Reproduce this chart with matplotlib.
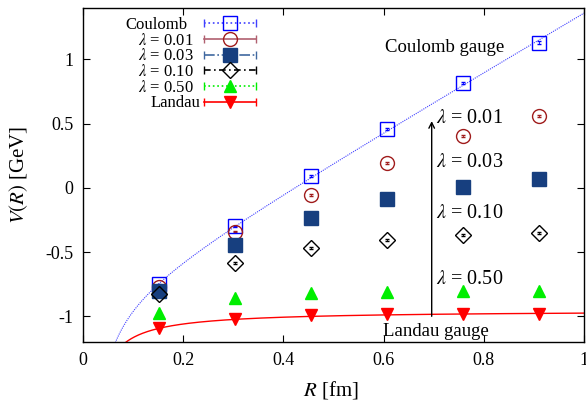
import numpy as np
import matplotlib
matplotlib.use("Agg")
import matplotlib.pyplot as plt
from matplotlib.lines import Line2D
from matplotlib.legend_handler import HandlerLine2D, HandlerTuple
from matplotlib.ticker import FuncFormatter

plt.rcParams['font.family'] = ['Liberation Serif', 'DejaVu Serif']
plt.rcParams['mathtext.fontset'] = 'stix'

# Data
R = [0.1516, 0.3032, 0.4548, 0.6064, 0.7580, 0.9096]
V_coulomb = [-0.75, -0.30, 0.094, 0.46, 0.82, 1.13]
V_l001 = [-0.77, -0.34, -0.055, 0.195, 0.405, 0.56]
V_l003 = [-0.80, -0.445, -0.234, -0.086, 0.01, 0.07]
V_l010 = [-0.83, -0.586, -0.47, -0.406, -0.367, -0.35]
V_l050 = [-0.977, -0.86, -0.82, -0.81, -0.805, -0.80]
V_landau = [-1.094, -1.02, -0.99, -0.985, -0.983, -0.98]
err = [0.004, 0.005, 0.006, 0.007, 0.008, 0.01]

# fit parameters V(R) = C - A/R + sigma*R
fit_coulomb = dict(C=-0.90, A=0.0292, sigma=2.29)
fit_landau = dict(C=-0.954, A=0.0212, sigma=0.0)

labels = ['Coulomb', r'$\lambda$ = 0.01', r'$\lambda$ = 0.03',
          r'$\lambda$ = 0.10', r'$\lambda$ = 0.50', 'Landau']
series = [V_coulomb, V_l001, V_l003, V_l010, V_l050, V_landau]
colors = ['#0000ff', '#a01c1c', '#173f7f', '#000000', '#00ee00', '#ff0000']
legcolors = ['#4040ff', '#b06070', '#4068a0', '#000000', '#00ee00', '#ff0000']
markers = ['s', 'o', 's', 'D', '^', 'v']
mfcs = ['none', 'none', '#173f7f', 'none', '#00ee00', '#ff0000']
msizes = [10, 10, 10, 8, 9, 9]
lstyles = [':', '-', '-.', (0, (4, 2, 1, 2)), ':', '-']

fig = plt.figure(figsize=(5.86, 4.04), dpi=100)
ax = fig.add_axes([0.1416, 0.1535, 0.855, 0.8265])

# fit curves
rr = np.linspace(0.03, 1.0, 600)
fc = fit_coulomb['C'] - fit_coulomb['A'] / rr + fit_coulomb['sigma'] * rr
fl = fit_landau['C'] - fit_landau['A'] / rr + fit_landau['sigma'] * rr
ax.plot(rr, fc, color='#4040ff', lw=0.8, ls=(0, (1, 1)))
ax.plot(rr, fl, color='#ff0000', lw=1.0)

handles = []
hmap = {}
for V, lab, c, lc, m, mfc, ms, ls in zip(series, labels, colors, legcolors,
                                         markers, mfcs, msizes, lstyles):
    ax.errorbar(R, V, yerr=err, fmt=m, color=c, mfc=mfc, mec=c, ms=ms,
                mew=1.0, elinewidth=0.6, capsize=1.5, capthick=0.6, ls='none')
    cap = Line2D([], [], color=lc, ls=ls, lw=1.2, marker='|', ms=6, mew=1.0)
    mk = Line2D([], [], color=c, ls='none', marker=m, mfc=mfc, mec=c, ms=ms, mew=1.0)
    hmap[cap] = HandlerLine2D(numpoints=2)
    hmap[mk] = HandlerLine2D(numpoints=1)
    handles.append((cap, mk))

hmap[tuple] = HandlerTuple(ndivide=1, pad=0)
leg = ax.legend(handles, labels, handler_map=hmap, loc='upper left',
                bbox_to_anchor=(0.065, 1.003), frameon=False, markerfirst=False,
                fontsize=12, handlelength=3.7, labelspacing=-0.02,
                handletextpad=0.7, borderaxespad=0.2)

# right-align the legend labels
renderer = fig.canvas.get_renderer()
texts = leg.get_texts()
widths = [t.get_window_extent(renderer).width for t in texts]
wmax = max(widths)
for t, w in zip(texts, widths):
    t.set_position((wmax - w, 0))

# annotations
ax.text(0.722, 1.09, 'Coulomb gauge', fontsize=13.5, ha='center', va='center')
ax.text(0.705, -1.12, 'Landau gauge', fontsize=13.5, ha='center', va='center')
ax.text(0.705, 0.54, r'$\lambda$ = 0.01', fontsize=14.5, ha='left', va='center')
ax.text(0.705, 0.195, r'$\lambda$ = 0.03', fontsize=14.5, ha='left', va='center')
ax.text(0.705, -0.20, r'$\lambda$ = 0.10', fontsize=14.5, ha='left', va='center')
ax.text(0.705, -0.71, r'$\lambda$ = 0.50', fontsize=14.5, ha='left', va='center')
ax.annotate('', xy=(0.696, 0.52), xytext=(0.696, -1.0),
            arrowprops=dict(arrowstyle='->', color='black', lw=1.0,
                            shrinkA=0, shrinkB=0))

ax.set_xlim(0, 1)
ax.set_ylim(-1.2, 1.4)
ax.set_xticks([0, 0.2, 0.4, 0.6, 0.8, 1.0])
ax.set_yticks([-1, -0.5, 0, 0.5, 1])
fmt = FuncFormatter(lambda v, p: ('%g' % v).replace('\u2212', '-'))
ax.xaxis.set_major_formatter(fmt)
ax.yaxis.set_major_formatter(fmt)
ax.tick_params(direction='in', top=True, right=True, length=5, width=0.8,
               labelsize=13, pad=7)
for s in ax.spines.values():
    s.set_linewidth(1.0)
ax.set_xlabel(r'$R$ [fm]', fontsize=15)
ax.set_ylabel(r'$V(R)$ [GeV]', fontsize=15)
ax.xaxis.set_label_coords(0.495, -0.11)
ax.yaxis.set_label_coords(-0.105, 0.5)

fig.savefig('out.png', dpi=100)
